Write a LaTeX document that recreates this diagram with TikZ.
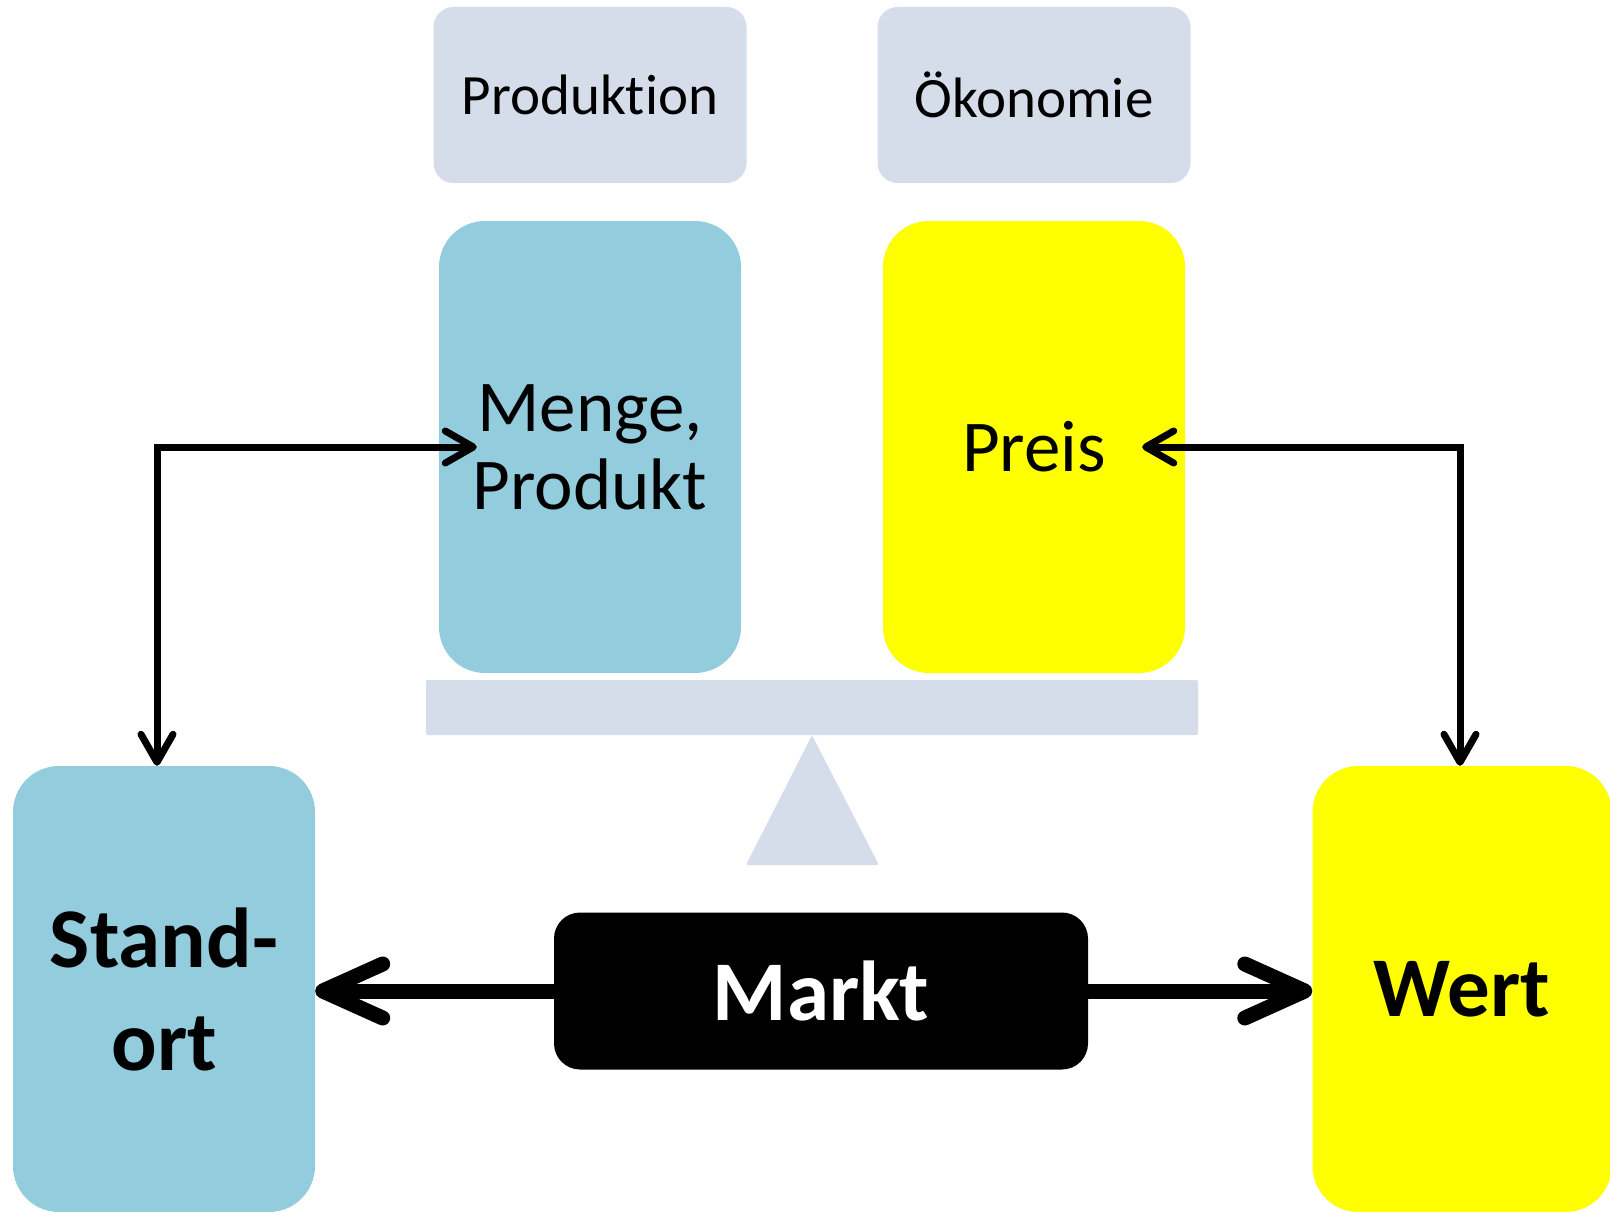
\documentclass[tikz,border=0pt]{standalone}
\usepackage{fontspec}
\setmainfont{Carlito}[Ligatures=NoCommon]
\usepackage{tikz}
\usetikzlibrary{shapes, calc, arrows.meta, positioning}

\definecolor{aqua}{RGB}{147,205,221}
\definecolor{greyblue}{RGB}{213,220,234}
\definecolor{lemon}{RGB}{255,255,0}

\begin{document}
\begin{tikzpicture}[x=1pt, y=-1pt,
  head/.style={shape=rectangle, fill=greyblue, rounded corners=20pt, inner sep=0pt,
    minimum width=313pt, minimum height=176pt, font=\fontsize{57}{68}\selectfont},
  card/.style={shape=rectangle, rounded corners=46pt, inner sep=0pt, align=center,
    minimum width=302pt, minimum height=452pt, font=\fontsize{73}{78}\selectfont},
  bigcard/.style={card, minimum height=446pt, font=\bfseries\fontsize{85}{103}\selectfont},
  thinlink/.style={line width=7pt,
    {Straight Barb[length=28pt, width=32pt, line cap=round, line join=round]}-{Straight Barb[length=28pt, width=32pt, line cap=round, line join=round]}},
  thicklink/.style={line width=15pt,
    -{Straight Barb[length=60pt, width=54pt, line cap=round, line join=round]}}]
  \useasboundingbox (0,0) rectangle (1610,1212);

  \node[head] (prod) at (590,95) {Produktion};
  \node[head] (oeko) at (1034,95) {Ökonomie};

  \node[card, fill=aqua] (menge) at (590,447) {Menge,\\Produkt};
  \node[card, fill=lemon] (preis) at (1034,447) {Preis};

  \node[shape=rectangle, fill=greyblue, rounded corners=2pt, inner sep=0pt,
    minimum width=772pt, minimum height=55pt] (beam) at (812,707.5) {};
  \fill[greyblue, rounded corners=2pt] (beam.south) -- (879,865) -- (746,865) -- cycle;

  \node[bigcard, fill=aqua] (standort) at (164,989) {Stand-\\ort};
  \node[bigcard, fill=lemon, minimum width=299pt] (wert) at (1462,989) {Wert};
  \node[shape=rectangle, fill=black, text=white, rounded corners=26pt, inner sep=0pt,
    minimum width=534pt, minimum height=157pt,
    font=\bfseries\fontsize{85}{100}\selectfont] (markt) at (821,991) {Markt};

  \draw[thinlink] ([xshift=38pt]menge.west) -| ([xshift=-7pt]standort.north);
  \draw[thinlink] ([xshift=-43pt]preis.east) -| ([xshift=-2pt]wert.north);
  \draw[thicklink] (markt.west) -- (markt.west -| standort.east);
  \draw[thicklink] (markt.east) -- (markt.east -| wert.west);
\end{tikzpicture}
\end{document}
